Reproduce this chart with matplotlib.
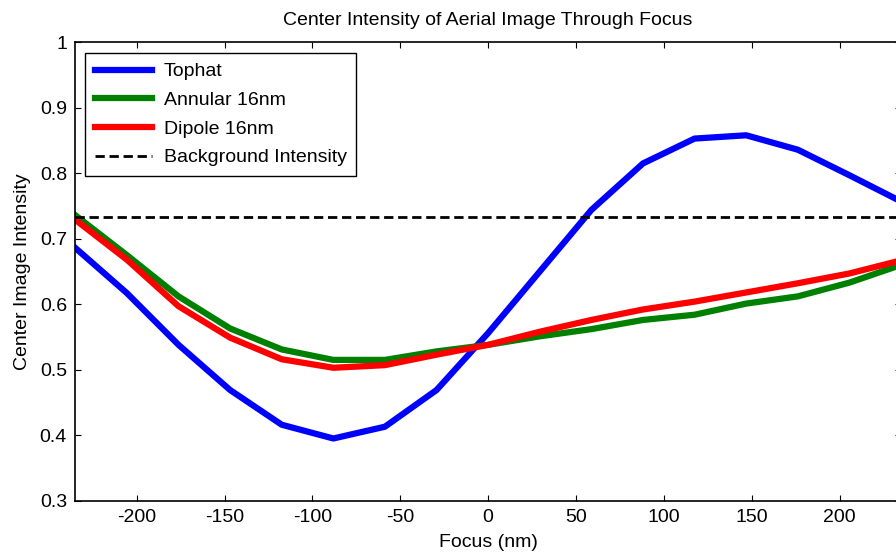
import numpy as np
import matplotlib
matplotlib.use("Agg")
import matplotlib.pyplot as plt

plt.rcParams['font.family'] = ['Liberation Sans', 'DejaVu Sans']

# focus positions (nm)
focus = np.linspace(-235, 235, 17)

tophat = [0.686, 0.617, 0.538, 0.469, 0.416, 0.395, 0.413, 0.469, 0.556,
          0.650, 0.744, 0.815, 0.853, 0.858, 0.836, 0.797, 0.757]
annular = [0.736, 0.675, 0.612, 0.563, 0.531, 0.515, 0.515, 0.528, 0.538,
           0.551, 0.562, 0.576, 0.584, 0.601, 0.612, 0.633, 0.660]
dipole = [0.729, 0.668, 0.597, 0.549, 0.516, 0.503, 0.507, 0.523, 0.538,
          0.558, 0.576, 0.592, 0.604, 0.618, 0.632, 0.647, 0.667]
background = 0.733

xticks = [-200, -150, -100, -50, 0, 50, 100, 150, 200]
yticks = [0.3, 0.4, 0.5, 0.6, 0.7, 0.8, 0.9, 1]

fig = plt.figure(figsize=(8.96, 5.52), dpi=100)
# axes run a bit past the right edge, like the cropped original
ax = fig.add_axes([75.3 / 896, 1 - 500.7 / 552, 825.7 / 896, 458.4 / 552])

lw = 4.5
ax.plot(focus, tophat, color='#0000ff', lw=lw, label='Tophat')
ax.plot(focus, annular, color='#008000', lw=lw, label='Annular 16nm')
ax.plot(focus, dipole, color='#ff0000', lw=lw, label='Dipole 16nm')
ax.plot([focus[0], focus[-1]], [background, background], color='black',
        lw=2, ls=(0, (3.35, 1.7)), label='Background Intensity')

ax.set_xlim(-235, 235)
ax.set_ylim(0.3, 1)
ax.set_xticks(xticks)
ax.set_xticklabels([str(t) for t in xticks])
ax.set_yticks(yticks)
ax.set_yticklabels(['0.3', '0.4', '0.5', '0.6', '0.7', '0.8', '0.9', '1'])
ax.tick_params(direction='in', length=4.5, width=0.8, top=True, right=True,
               labelsize=14, pad=6)
for s in ax.spines.values():
    s.set_linewidth(1.2)

ax.set_title('Center Intensity of Aerial Image Through Focus', fontsize=14, pad=12.6)
ax.set_xlabel('Focus (nm)', fontsize=14, labelpad=5.6)
ax.set_ylabel('Center Image Intensity', fontsize=14, labelpad=6)

leg = ax.legend(loc='upper left', bbox_to_anchor=(0.0117, 0.9767), borderaxespad=0,
                fontsize=14, handlelength=2.95, handletextpad=0.6, labelspacing=0.57,
                borderpad=0.5, fancybox=False, framealpha=1)
leg.get_frame().set_edgecolor('black')
leg.get_frame().set_linewidth(1.0)

fig.savefig('out.png', dpi=100)
